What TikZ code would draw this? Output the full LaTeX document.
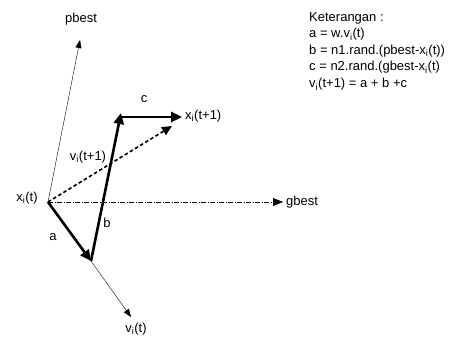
\documentclass[tikz,border=0pt]{standalone}
\usepackage{fontspec}
\setmainfont{Liberation Sans}
\usetikzlibrary{arrows.meta,positioning}
\tikzset{
  thinvec/.style={line width=0.4pt, -{Triangle[length=8pt,width=6pt]}},
  thickvec/.style={line width=2.6pt, -{Triangle[length=11pt,width=10pt]}},
  dotvec/.style={line width=1.6pt, dash pattern=on 3.5pt off 2.5pt, -{Triangle[length=10pt,width=9pt]}},
  guide/.style={line width=0.4pt, dash pattern=on 5pt off 1.5pt on 1pt off 1.5pt, -{Triangle[length=10pt,width=8pt]}},
  lbl/.style={font=\fontsize{13}{14}\selectfont, inner sep=1pt},
}
\begin{document}
\begin{tikzpicture}[x=1pt,y=-1pt]
  \useasboundingbox (0,0) rectangle (458,342);
  % points of the vectors
  \coordinate (xt) at (48,202);
  \coordinate (pb) at (80,40);
  \coordinate (gb) at (283,202);
  \coordinate (ta) at (91,261);
  \coordinate (vt) at (131,317);
  \coordinate (tb) at (121,113);
  \coordinate (sc) at (120,117);
  \coordinate (tc) at (182,117);
  \coordinate (tv) at (172,126);
  % vectors
  \draw[thinvec] (xt) -- (pb);
  \draw[guide] (xt) -- (gb);
  \draw[thinvec] (ta) -- (vt);
  \draw[dotvec] (xt) -- (tv);
  \draw[thickvec] (xt) -- (ta);
  \draw[thickvec] (ta) -- (tb);
  \draw[thickvec] (sc) -- (tc);
  % labels
  \node[lbl] (lxt) at (27,198) {x\textsubscript{i}(t)};
  \node[lbl] (lpb) at (81,19) {pbest};
  \node[lbl, anchor=west] (lgb) at (285,202) {gbest};
  \node[lbl] (la) at (53,237) {a};
  \node[lbl] (lb) at (107,223) {b};
  \node[lbl] (lc) at (144,99) {c};
  \node[lbl, anchor=west] (lxn) at (184,116) {x\textsubscript{i}(t+1)};
  \node[lbl] (lvt) at (136,329) {v\textsubscript{i}(t)};
  \node[lbl] (lvn) at (88,157) {v\textsubscript{i}(t+1)};
  % keterangan
  \node[lbl, anchor=north west, align=left, font=\fontsize{13}{16.6}\selectfont]
    (ket) at (308,11) {Keterangan :\\
    a = w.v\textsubscript{i}(t)\\
    b = n1.rand.(pbest-x\textsubscript{i}(t))\\
    c = n2.rand.(gbest-x\textsubscript{i}(t)\\
    v\textsubscript{i}(t+1) = a + b +c};
\end{tikzpicture}
\end{document}
